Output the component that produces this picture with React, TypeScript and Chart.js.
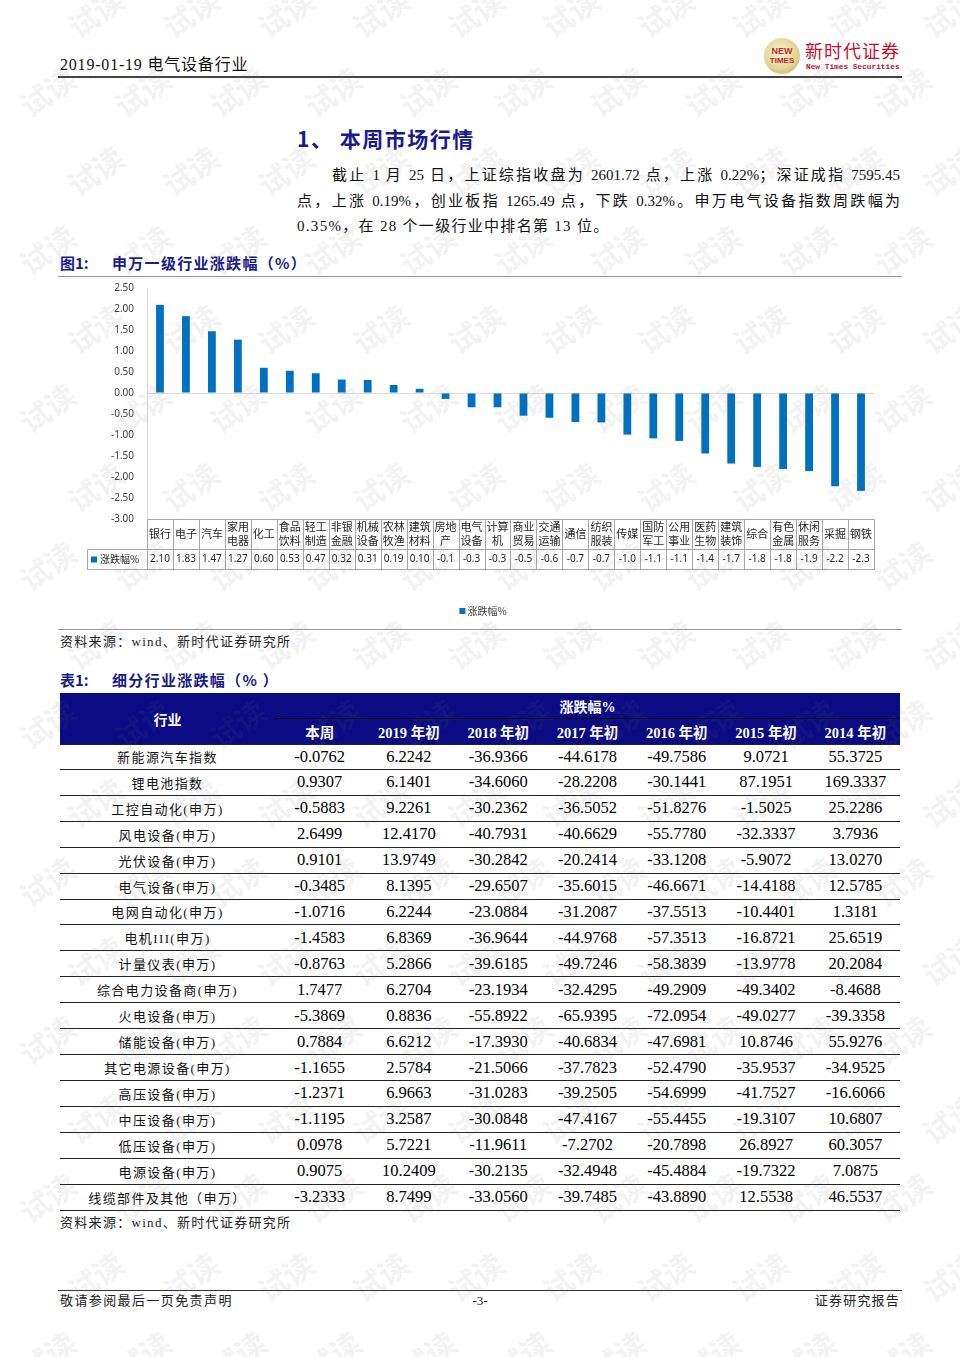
import React, { useEffect, useRef } from "react";
import { Chart, registerables } from "chart.js";

Chart.register(...registerables);

const CJK = '"Noto Sans CJK SC", sans-serif';
const SERIF = '"Liberation Serif", "Noto Sans CJK SC", serif';
const NAVY = "#1a1a8c";

// ---------- Figure 1 data ----------
const industries = [
  "银行", "电子", "汽车", "家用电器", "化工", "食品饮料", "轻工制造", "非银金融",
  "机械设备", "农林牧渔", "建筑材料", "房地产", "电气设备", "计算机", "商业贸易", "交通运输",
  "通信", "纺织服装", "传媒", "国防军工", "公用事业", "医药生物", "建筑装饰", "综合",
  "有色金属", "休闲服务", "采掘", "钢铁",
];
const weeklyChange = [
  2.10, 1.83, 1.47, 1.27, 0.60, 0.53, 0.47, 0.32,
  0.31, 0.19, 0.10, -0.14, -0.34, -0.34, -0.54, -0.59,
  -0.69, -0.70, -0.99, -1.08, -1.14, -1.44, -1.68, -1.76,
  -1.81, -1.86, -2.22, -2.33,
];
const seriesLabel = "涨跌幅%";
const yMin = -3;
const yMax = 2.5;
const yStep = 0.5;

// ---------- Table 1 data ----------
const tableHeaders = ["本周", "2019 年初", "2018 年初", "2017 年初", "2016 年初", "2015 年初", "2014 年初"];
const subIndustries = [
  "新能源汽车指数", "锂电池指数", "工控自动化(申万)", "风电设备(申万)", "光伏设备(申万)",
  "电气设备(申万)", "电网自动化(申万)", "电机III(申万)", "计量仪表(申万)", "综合电力设备商(申万)",
  "火电设备(申万)", "储能设备(申万)", "其它电源设备(申万)", "高压设备(申万)", "中压设备(申万)",
  "低压设备(申万)", "电源设备(申万)", "线缆部件及其他（申万）",
];
const chgWeek = [-0.0762, 0.9307, -0.5883, 2.6499, 0.9101, -0.3485, -1.0716, -1.4583, -0.8763, 1.7477, -5.3869, 0.7884, -1.1655, -1.2371, -1.1195, 0.0978, 0.9075, -3.2333];
const chg2019 = [6.2242, 6.1401, 9.2261, 12.4170, 13.9749, 8.1395, 6.2244, 6.8369, 5.2866, 6.2704, 0.8836, 6.6212, 2.5784, 6.9663, 3.2587, 5.7221, 10.2409, 8.7499];
const chg2018 = [-36.9366, -34.6060, -30.2362, -40.7931, -30.2842, -29.6507, -23.0884, -36.9644, -39.6185, -23.1934, -55.8922, -17.3930, -21.5066, -31.0283, -30.0848, -11.9611, -30.2135, -33.0560];
const chg2017 = [-44.6178, -28.2208, -36.5052, -40.6629, -20.2414, -35.6015, -31.2087, -44.9768, -49.7246, -32.4295, -65.9395, -40.6834, -37.7823, -39.2505, -47.4167, -7.2702, -32.4948, -39.7485];
const chg2016 = [-49.7586, -30.1441, -51.8276, -55.7780, -33.1208, -46.6671, -37.5513, -57.3513, -58.3839, -49.2909, -72.0954, -47.6981, -52.4790, -54.6999, -55.4455, -20.7898, -45.4884, -43.8890];
const chg2015 = [9.0721, 87.1951, -1.5025, -32.3337, -5.9072, -14.4188, -10.4401, -16.8721, -13.9778, -49.3402, -49.0277, 10.8746, -35.9537, -41.7527, -19.3107, 26.8927, -19.7322, 12.5538];
const chg2014 = [55.3725, 169.3337, 25.2286, 3.7936, 13.0270, 12.5785, 1.3181, 25.6519, 20.2084, -8.4688, -39.3358, 55.9276, -34.9525, -16.6066, 10.6807, 60.3057, 7.0875, 46.5537];
const tableColumns = [chgWeek, chg2019, chg2018, chg2017, chg2016, chg2015, chg2014];

const BAR_COLOR = "#0070C0";

function fmtVal(v: number) {
  return v >= 0 ? v.toFixed(2) : v.toFixed(1);
}

function splitLabel(s: string): string[] {
  if (s.length <= 2) return [s];
  return [s.slice(0, 2), s.slice(2)];
}

function IndustryChart() {
  const ref = useRef<HTMLCanvasElement | null>(null);
  useEffect(() => {
    if (!ref.current) return;
    const tablePlugin = {
      id: "dataTable",
      afterDraw(chart: any) {
        const { ctx, chartArea } = chart;
        const xs = chart.scales.x;
        const n = industries.length;
        const step = xs.getPixelForValue(1) - xs.getPixelForValue(0);
        const start = xs.getPixelForValue(0) - step / 2;
        const right = chartArea.right;
        const top = chartArea.bottom;
        const r1 = top + 30;
        const r2 = top + 50;
        const legendLeft = 27;
        const px = (v: number) => Math.round(v) + 0.5;
        const line = (x1: number, y1: number, x2: number, y2: number) => {
          ctx.beginPath();
          ctx.moveTo(px(x1), px(y1));
          ctx.lineTo(px(x2), px(y2));
          ctx.stroke();
        };
        ctx.save();
        ctx.strokeStyle = "#a6a6a6";
        ctx.lineWidth = 1;
        line(start, top, right, top);
        line(legendLeft, r1, right, r1);
        line(legendLeft, r2, right, r2);
        for (let i = 0; i <= n; i++) {
          const x = start + i * step;
          line(x, top, x, r2);
        }
        line(legendLeft, r1, legendLeft, r2);

        ctx.textAlign = "center";
        ctx.textBaseline = "middle";
        ctx.fillStyle = "#262626";
        ctx.font = `11px ${CJK}`;
        industries.forEach((name, i) => {
          const cx = xs.getPixelForValue(i);
          const parts = splitLabel(name);
          const mid = (top + r1) / 2;
          if (parts.length === 1) ctx.fillText(parts[0], cx, mid);
          else {
            ctx.fillText(parts[0], cx, mid - 7);
            ctx.fillText(parts[1], cx, mid + 7);
          }
        });
        ctx.font = `10px "Noto Sans", sans-serif`;
        const vm = (r1 + r2) / 2 + 0.5;
        weeklyChange.forEach((v, i) => {
          ctx.fillText(fmtVal(v), xs.getPixelForValue(i), vm);
        });
        // legend key inside table
        const ds = chart.data.datasets[0];
        ctx.fillStyle = ds.backgroundColor;
        ctx.fillRect(31, vm - 3, 6, 6);
        ctx.fillStyle = "#262626";
        ctx.textAlign = "left";
        ctx.font = `10px ${CJK}`;
        ctx.fillText(ds.label, 40, vm);

        // bottom legend
        ctx.font = `10px ${CJK}`;
        const tw = ctx.measureText(ds.label).width;
        const total = 8 + tw;
        const lx = chart.width / 2 - total / 2 + 3;
        const ly = 331;
        ctx.fillStyle = ds.backgroundColor;
        ctx.fillRect(lx, ly - 3, 6, 6);
        ctx.fillStyle = "#404040";
        ctx.fillText(ds.label, lx + 8, ly);
        ctx.restore();
      },
    };

    const chart = new Chart(ref.current, {
      type: "bar",
      data: {
        labels: industries,
        datasets: [
          {
            label: seriesLabel,
            data: weeklyChange,
            backgroundColor: BAR_COLOR,
            barPercentage: 0.3,
            categoryPercentage: 1,
          },
        ],
      },
      options: {
        animation: false,
        responsive: true,
        maintainAspectRatio: false,
        layout: { padding: { top: 8, right: 26, bottom: 61, left: 0 } },
        plugins: { legend: { display: false }, tooltip: { enabled: false } },
        scales: {
          x: {
            type: "category",
            ticks: { display: false },
            grid: { display: false },
            border: { display: false },
            afterFit: (s: any) => {
              s.height = 50;
            },
          },
          y: {
            min: yMin,
            max: yMax,
            ticks: {
              stepSize: yStep,
              padding: 13,
              color: "#404040",
              font: { size: 10, family: '"Noto Sans", sans-serif' },
              callback: (v: any) => Number(v).toFixed(2),
            },
            grid: {
              drawTicks: false,
              color: (c: any) => (c.tick && c.tick.value === 0 ? "#d9d9d9" : "rgba(0,0,0,0)"),
            },
            border: { display: true, color: "#d9d9d9" },
            afterFit: (s: any) => {
              s.width = 87;
              s.paddingTop = 6;
              s.paddingBottom = 6;
            },
          },
        },
      },
      plugins: [tablePlugin],
    } as any);
    return () => chart.destroy();
  }, []);
  return (
    <div style={{ position: "absolute", left: 60, top: 280, width: 840, height: 350 }}>
      <canvas ref={ref} />
    </div>
  );
}

function HLine({ top, color = "#888", h = 1 }: { top: number; color?: string; h?: number }) {
  return <div style={{ position: "absolute", left: 58, width: 844, top, height: h, background: color }} />;
}

function Watermarks() {
  const items: JSX.Element[] = [];
  for (let r = 0; r < 18; r++) {
    const y = 8 + r * 79;
    const off = r % 2 === 0 ? 95 : 47;
    for (let c = 0; c < 11; c++) {
      const x = off + c * 95 - 30;
      items.push(
        <div
          key={`${r}-${c}`}
          style={{
            position: "absolute",
            left: x,
            top: y - 18,
            fontFamily: CJK,
            fontWeight: 700,
            fontSize: 30,
            color: "rgba(110,110,110,0.09)",
            transform: "rotate(-35deg)",
            whiteSpace: "nowrap",
          }}
        >
          试读
        </div>
      );
    }
  }
  return (
    <div style={{ position: "absolute", left: 0, top: 0, width: 960, height: 1357, overflow: "hidden", pointerEvents: "none" }}>
      {items}
    </div>
  );
}

function DataTable() {
  const top = 693;
  const rowH = 25.93;
  const labelW = 215;
  const colW = 625 / 7;
  return (
    <div style={{ position: "absolute", left: 60, top, width: 840 }}>
      <div style={{ position: "relative", height: 51, background: "#0b0b84", color: "#fff" }}>
        <div style={{ position: "absolute", left: 0, width: labelW, top: 0, height: 51, display: "flex", alignItems: "center", justifyContent: "center", fontFamily: CJK, fontWeight: 700, fontSize: 14 }}>
          行业
        </div>
        <div style={{ position: "absolute", left: labelW, right: 0, top: 0, height: 25, display: "flex", alignItems: "center", justifyContent: "center", fontFamily: SERIF, fontWeight: 700, fontSize: 14 }}>
          涨跌幅%
        </div>
        <div style={{ position: "absolute", left: labelW, right: 0, top: 25, height: 1, background: "#000" }} />
        {tableHeaders.map((h, i) => (
          <div key={h} style={{ position: "absolute", left: labelW + i * colW, width: colW, top: 26, height: 25, display: "flex", alignItems: "center", justifyContent: "center", fontFamily: SERIF, fontWeight: 700, fontSize: 14.5, whiteSpace: "nowrap" }}>
            {h}
          </div>
        ))}
      </div>
      {subIndustries.map((name, r) => (
        <div key={name} style={{ position: "relative", height: rowH, boxSizing: "border-box", borderBottom: "1.3px solid #222", borderTop: r === 0 ? "1px solid #222" : undefined }}>
          <div style={{ position: "absolute", left: 0, width: labelW, top: 0, bottom: 0, display: "flex", alignItems: "center", justifyContent: "center", fontFamily: SERIF, fontSize: 13, letterSpacing: 1.4, color: "#111", whiteSpace: "nowrap" }}>
            {name}
          </div>
          {tableColumns.map((col, c) => (
            <div key={c} style={{ position: "absolute", left: labelW + c * colW, width: colW, top: 0, bottom: 0, display: "flex", alignItems: "center", justifyContent: "center", fontFamily: '"Liberation Serif", serif', fontSize: 16.5, color: "#000" }}>
              {col[r].toFixed(4)}
            </div>
          ))}
        </div>
      ))}
    </div>
  );
}

export default function App() {
  const para = { fontFamily: SERIF, fontSize: 15, color: "#111", whiteSpace: "nowrap" as const };
  return (
    <div style={{ position: "absolute", left: 0, top: 0, width: 960, height: 1357, background: "#fff", overflow: "hidden" }}>
      {/* header */}
      <div style={{ position: "absolute", left: 60, top: 55, fontFamily: SERIF, fontSize: 16, lineHeight: "20px", color: "#111", letterSpacing: 0.8, whiteSpace: "nowrap" }}>
        2019-01-19 电气设备行业
      </div>
      <div style={{ position: "absolute", left: 764, top: 38, width: 36, height: 36, borderRadius: "50%", background: "radial-gradient(circle at 45% 40%, #f8f1cf 0%, #e3d59a 55%, #c2a95e 100%)", display: "flex", flexDirection: "column", alignItems: "center", justifyContent: "center", fontFamily: '"Liberation Sans", sans-serif', fontWeight: 700, lineHeight: "9px" }}>
        <span style={{ fontSize: 9, color: "#c0282d" }}>NEW</span>
        <span style={{ fontSize: 8, color: "#c0282d" }}>TIMES</span>
      </div>
      <div style={{ position: "absolute", left: 805, top: 39, fontFamily: CJK, fontSize: 18, lineHeight: "22px", color: "#c8102e", letterSpacing: 1 }}>
        新时代证券
      </div>
      <div style={{ position: "absolute", left: 806, top: 62, fontFamily: '"Liberation Mono", monospace', fontWeight: 700, fontSize: 7.8, lineHeight: "10px", color: "#c8102e" }}>
        New Times Securities
      </div>
      <HLine top={76} color="#444" h={2} />

      {/* section title */}
      <div style={{ position: "absolute", left: 297, top: 124, fontFamily: CJK, fontWeight: 700, fontSize: 21, lineHeight: "28px", color: NAVY, letterSpacing: 1.5, whiteSpace: "nowrap" }}>
        1、 本周市场行情
      </div>
      <div style={{ position: "absolute", left: 332, width: 568, top: 164, lineHeight: "22px", textAlign: "justify", textAlignLast: "justify", ...para }}>
        截止 1 月 25 日，上证综指收盘为 2601.72 点，上涨 0.22%；深证成指 7595.45
      </div>
      <div style={{ position: "absolute", left: 297, width: 603, top: 189.5, lineHeight: "22px", textAlign: "justify", textAlignLast: "justify", ...para }}>
        点，上涨 0.19%，创业板指 1265.49 点，下跌 0.32%。申万电气设备指数周跌幅为
      </div>
      <div style={{ position: "absolute", left: 297, top: 215, lineHeight: "22px", letterSpacing: 1.3, ...para }}>
        0.35%，在 28 个一级行业中排名第 13 位。
      </div>

      {/* figure caption */}
      <div style={{ position: "absolute", left: 60, top: 253, fontFamily: CJK, fontWeight: 700, fontSize: 15, lineHeight: "20px", color: NAVY, whiteSpace: "nowrap" }}>
        <span>图1:</span>
        <span style={{ position: "absolute", left: 52, letterSpacing: 1.3 }}>申万一级行业涨跌幅（%）</span>
      </div>
      <HLine top={276} color="#999" />

      <IndustryChart />

      <HLine top={629} color="#999" />
      <div style={{ position: "absolute", left: 60, top: 633, fontFamily: SERIF, fontSize: 13, lineHeight: "18px", color: "#222", letterSpacing: 1.3, whiteSpace: "nowrap" }}>
        资料来源：wind、新时代证券研究所
      </div>

      {/* table caption */}
      <div style={{ position: "absolute", left: 60, top: 670, fontFamily: CJK, fontWeight: 700, fontSize: 15, lineHeight: "20px", color: NAVY, whiteSpace: "nowrap" }}>
        <span>表1:</span>
        <span style={{ position: "absolute", left: 52, letterSpacing: 1.3 }}>细分行业涨跌幅（% ）</span>
      </div>

      <DataTable />

      <div style={{ position: "absolute", left: 60, top: 1214, fontFamily: SERIF, fontSize: 13, lineHeight: "18px", color: "#222", letterSpacing: 1.3, whiteSpace: "nowrap" }}>
        资料来源：wind、新时代证券研究所
      </div>

      {/* footer */}
      <HLine top={1290} color="#333" />
      <div style={{ position: "absolute", left: 60, top: 1292, fontFamily: SERIF, fontSize: 13, lineHeight: "18px", color: "#222", letterSpacing: 1.4, whiteSpace: "nowrap" }}>
        敬请参阅最后一页免责声明
      </div>
      <div style={{ position: "absolute", left: 460, width: 40, textAlign: "center", top: 1292, fontFamily: SERIF, fontSize: 13, lineHeight: "18px", color: "#222" }}>
        -3-
      </div>
      <div style={{ position: "absolute", right: 60, top: 1292, fontFamily: SERIF, fontSize: 13, lineHeight: "18px", color: "#222", letterSpacing: 1.2, whiteSpace: "nowrap" }}>
        证券研究报告
      </div>

      <Watermarks />
    </div>
  );
}
